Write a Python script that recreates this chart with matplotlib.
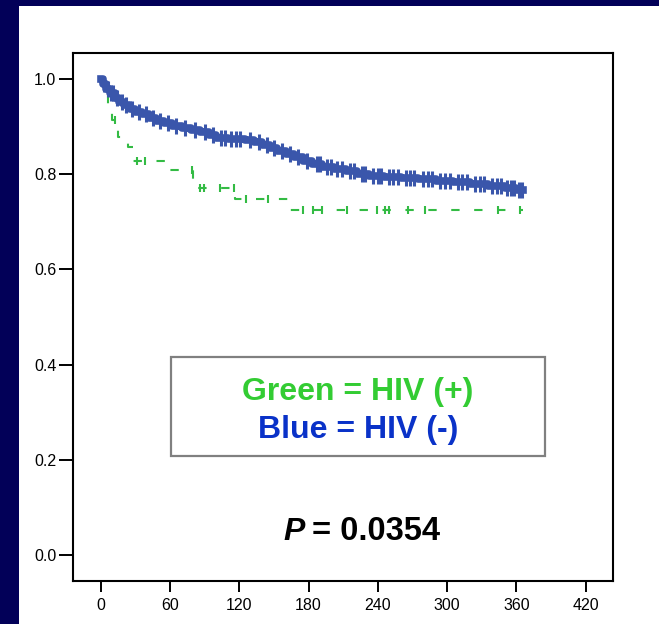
import numpy as np
import matplotlib
matplotlib.use('Agg')
import matplotlib.pyplot as plt
from matplotlib.patches import Rectangle

plt.rcParams['font.family'] = ['Liberation Sans', 'DejaVu Sans']

W, H = 659, 624

# HIV (-) : step knots (days, survival) and censor times
blue_t = [0, 2, 5, 8, 12, 16, 20, 25, 30, 36, 42, 48, 55, 62, 70, 78, 86, 94,
          100, 110, 125, 133, 140, 147, 153, 160, 167, 175, 183, 192, 202, 212,
          222, 232, 245, 260, 275, 290, 305, 320, 335, 350, 360]
blue_s = [1.0, 0.99, 0.98, 0.97, 0.96, 0.952, 0.945, 0.938, 0.932, 0.926, 0.919,
          0.913, 0.907, 0.902, 0.898, 0.894, 0.889, 0.882, 0.876, 0.874, 0.872,
          0.867, 0.861, 0.855, 0.849, 0.842, 0.836, 0.829, 0.822, 0.816, 0.811,
          0.806, 0.801, 0.797, 0.794, 0.792, 0.79, 0.786, 0.783, 0.779, 0.775,
          0.771, 0.767]
blue_end = 366
blue_cens = [3, 6, 9, 11, 14, 18, 22, 27, 33, 39, 45, 51, 58, 65, 73, 82, 90, 97,
             104, 108, 113, 117, 121, 129, 137, 144, 150, 157, 164, 171, 179, 187,
             190, 196, 199, 205, 209, 216, 219, 226, 229, 236, 240, 243, 250, 253,
             257, 264, 268, 271, 279, 283, 287, 294, 298, 302, 309, 313, 317, 324,
             328, 332, 339, 343, 347, 352, 355, 358, 362, 365]

# HIV (+)
green_t = [0, 3, 6, 10, 15, 24, 28, 57, 80, 116, 162]
green_s = [1.0, 0.966, 0.935, 0.914, 0.878, 0.857, 0.829, 0.81, 0.771, 0.749, 0.724]
green_end = 366
green_cens = [12, 31, 38, 79, 86, 89, 103, 115, 126, 145, 175, 184, 192, 213,
              239, 246, 250, 266, 281, 344, 363]

xticks = [0, 60, 120, 180, 240, 300, 360, 420]
yticks = [0.0, 0.2, 0.4, 0.6, 0.8, 1.0]


def step_at(t, knots, surv):
    idx = np.searchsorted(knots, t, side='right') - 1
    return np.array(surv)[idx]


def px(x, y):
    return x / W, 1 - y / H


fig = plt.figure(figsize=(W / 100, H / 100), dpi=100)
fig.patch.set_facecolor('#020058')
x0, y0 = px(19, 6)
fig.patches.append(Rectangle((x0, 0), 1 - x0, y0, transform=fig.transFigure,
                             facecolor='white', edgecolor='none', zorder=-1))

l, t = px(73, 53)
r, b = px(612.7, 581)
ax = fig.add_axes([l, b, r - l, t - b])
ax.set_facecolor('white')

blue = '#3a56ab'
green = '#33bb44'

gx = green_t + [green_end]
gy = green_s + [green_s[-1]]
ax.step(gx, gy, where='post', color=green, lw=1.5, linestyle=(0, (4, 7)), zorder=2)
ax.plot(green_cens, step_at(green_cens, green_t, green_s), linestyle='none',
        marker='|', ms=6, mew=1.5, color=green, zorder=2)

bx = blue_t + [blue_end]
by = blue_s + [blue_s[-1]]
ax.step(bx, by, where='post', color=blue, lw=5.5, zorder=3)
ax.plot(blue_cens, step_at(blue_cens, blue_t, blue_s), linestyle='none',
        marker='|', ms=11, mew=2.2, color=blue, zorder=3)

ax.set_xlim(-24, 443.3)
ax.set_ylim(-0.055, 1.055)
ax.set_xticks(xticks)
ax.set_xticklabels([str(v) for v in xticks])
ax.set_yticks(yticks)
ax.set_yticklabels(['%.1f' % v for v in yticks])
ax.tick_params(axis='x', direction='out', length=8, width=1.4, pad=4, labelsize=11.5)
ax.tick_params(axis='y', direction='out', length=10, width=1.4, pad=2, labelsize=11.5)
for s in ax.spines.values():
    s.set_linewidth(1.5)
    s.set_color('black')

# legend box
bl, bt = px(171, 357)
br, bb = px(545, 456)
fig.patches.append(Rectangle((bl, bb), br - bl, bt - bb, transform=fig.transFigure,
                             facecolor='white', edgecolor='#808080', lw=1.6, zorder=5))
fig.text(*px(358, 400), 'Green = HIV (+)', color='#33cc33', fontsize=23,
         fontweight='bold', ha='center', va='baseline', zorder=6)
fig.text(*px(358.5, 438), 'Blue = HIV (-)', color='#0a32c8', fontsize=23,
         fontweight='bold', ha='center', va='baseline', zorder=6)

fig.text(*px(305, 540), 'P', fontsize=23, fontweight='bold', fontstyle='italic',
         ha='right', va='baseline')
fig.text(*px(312, 540), '= 0.0354', fontsize=23.5, fontweight='bold',
         ha='left', va='baseline')

fig.savefig('out.png', dpi=100, facecolor=fig.get_facecolor())
